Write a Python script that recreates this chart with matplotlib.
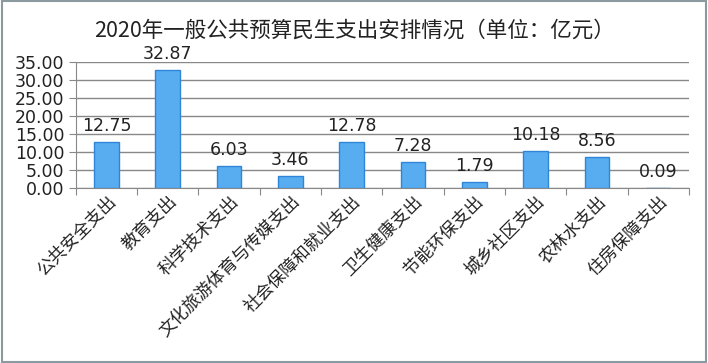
# %%
# 2020年一般公共预算民生支出安排情况 bar chart
import matplotlib.pyplot as plt
import numpy as np
from matplotlib.patches import Rectangle

plt.rcParams['font.family'] = ['Noto Sans CJK SC', 'DejaVu Sans']

categories = ["公共安全支出", "教育支出", "科学技术支出", "文化旅游体育与传媒支出",
              "社会保障和就业支出", "卫生健康支出", "节能环保支出", "城乡社区支出",
              "农林水支出", "住房保障支出"]
values = [12.75, 32.87, 6.03, 3.46, 12.78, 7.28, 1.79, 10.18, 8.56, 0.09]
yticks = [0, 5, 10, 15, 20, 25, 30, 35]

# %%
fig = plt.figure(figsize=(7.08, 3.63), dpi=100)
ax = fig.add_axes([0.107, 0.482, 0.866, 0.347])

x = np.arange(len(categories))
ax.bar(x, values, width=0.4, color="#58acf0", edgecolor="#2f86d8", linewidth=1, zorder=3)

for xi, v in zip(x, values):
    ax.annotate(f"{v:.2f}", (xi, v), xytext=(0, 5), textcoords="offset points",
                ha="center", va="bottom", fontsize=12.5, color="#222222",
                family="DejaVu Sans", zorder=4)

ax.set_xlim(-0.5, len(categories) - 0.5)
ax.set_ylim(0, 35)
ax.set_yticks(yticks)
ax.set_yticklabels([f"{t:.2f}" for t in yticks], fontsize=12.5, family="DejaVu Sans",
                   color="#222222")
ax.yaxis.grid(True, color="#888888", linewidth=1, zorder=0)

ax.set_xticks(np.arange(len(categories) + 1) - 0.5)
ax.set_xticklabels([])
ax.set_xticks(x, minor=True)
ax.set_xticklabels(categories, minor=True, rotation=45, ha="right",
                   rotation_mode="anchor", fontsize=12.5, color="#222222")
ax.tick_params(axis="x", which="minor", length=0, pad=3)
ax.tick_params(axis="x", which="major", length=5, color="#888888")
ax.tick_params(axis="y", length=5, color="#888888", pad=3)

for s in ["top", "right"]:
    ax.spines[s].set_visible(False)
for s in ["left", "bottom"]:
    ax.spines[s].set_color("#888888")

fig.text(0.5, 0.915, "2020年一般公共预算民生支出安排情况（单位：亿元）",
         ha="center", va="center", fontsize=15.5, color="#222222")

fig.patches.append(Rectangle((0.003, 0.004), 0.994, 0.992, transform=fig.transFigure,
                             fill=False, edgecolor="#8a9aa0", linewidth=1.5))

plt.savefig("out.png", dpi=100)
